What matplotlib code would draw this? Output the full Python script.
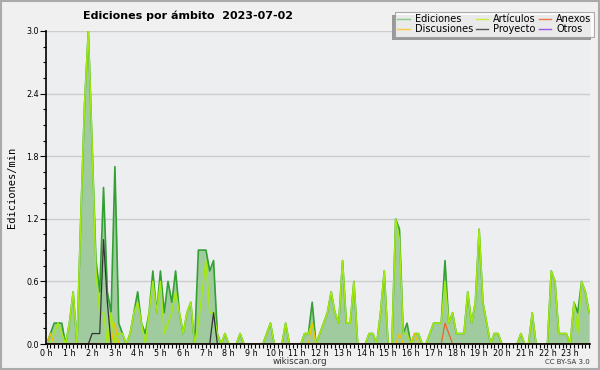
import numpy as np
import matplotlib
matplotlib.use('Agg')
import matplotlib.pyplot as plt
from matplotlib.patches import Rectangle

# edits per minute, 10-minute bins, one row per hour
ediciones = [
    0, .1, .2, .2, .2, 0,
    .2, .5, 0, 1.2, 2.3, 3.0,
    1.9, .8, .5, 1.5, .5, .3,
    1.7, .2, .1, 0, .1, .3,
    .5, .2, .1, .3, .7, .3,
    .7, .3, .6, .4, .7, .3,
    .1, .3, .4, 0, .9, .9,
    .9, .7, .8, .1, 0, .1,
    0, 0, 0, .1, 0, 0,
    0, 0, 0, 0, .1, .2,
    0, 0, 0, .2, 0, 0,
    0, 0, .1, .1, .4, 0,
    .1, .2, .3, .5, .3, .2,
    .8, .2, .2, .6, 0, 0,
    0, .1, .1, 0, .3, .7,
    0, 0, 1.2, 1.1, .1, .2,
    0, .1, .1, 0, 0, .1,
    .2, .2, .2, .8, .2, .3,
    .1, .1, .1, .5, .2, .4,
    1.1, .4, .2, 0, .1, .1,
    0, 0, 0, 0, 0, .1,
    0, 0, .3, 0, 0, 0,
    0, .7, .6, .1, .1, .1,
    0, .4, .3, .6, .5, .3,
]
articulos = [
    0, 0, .1, .2, .1, 0,
    .2, .5, 0, 1.2, 2.3, 3.0,
    1.9, .7, .3, .3, 0, .3,
    0, .1, .1, 0, .1, .3,
    .4, .2, 0, .3, .6, .3,
    .6, .1, .2, .3, .5, .3,
    .1, .3, .4, 0, .2, .5,
    .8, .3, .3, .1, 0, .1,
    0, 0, 0, .1, 0, 0,
    0, 0, 0, 0, .1, .2,
    0, 0, 0, .2, 0, 0,
    0, 0, .1, .1, .2, 0,
    .1, .2, .3, .5, .3, .2,
    .8, .2, .2, .6, 0, 0,
    0, .1, .1, 0, .3, .7,
    0, 0, 1.2, 1.0, .1, .1,
    0, .1, .1, 0, 0, .1,
    .2, .2, .2, .6, .2, .3,
    .1, .1, .1, .5, .2, .4,
    1.1, .4, .2, 0, .1, .1,
    0, 0, 0, 0, 0, .1,
    0, 0, .3, 0, 0, 0,
    0, .7, .6, .1, .1, .1,
    0, .4, .1, .6, .5, .3,
]
# sparse series: {bin: value}
discusiones = {1: .1, 18: .2, 70: .2, 93: .1, 97: .1}
proyecto = {12: .1, 13: .1, 14: .1, 15: 1.0, 16: .4, 44: .3}
anexos = {105: .2, 106: .1}
otros = {}

hours = [str(h) + ' h' for h in range(24)]

n = len(ediciones)
t = np.arange(n) / 6.0

def dense(d):
    a = np.zeros(n)
    for k, v in d.items():
        a[k] = v
    return a

fig = plt.figure(figsize=(6, 3.7), dpi=100)
fig.patch.set_facecolor('#f0f0f0')
ax = fig.add_axes([46/600, 26/370, 544/600, 313/370])
ax.set_facecolor('#edeef0')

ax.fill_between(t, 0, ediciones, color='#9fcb9f', lw=0, zorder=2)
ax.plot(t, ediciones, color='#33a033', lw=1.2, zorder=3)
ax.plot(t, articulos, color='#a4ea10', lw=1.1, zorder=4)
ax.plot(t, dense(discusiones), color='#f2c200', lw=0.9, zorder=5)
ax.plot(t, dense(proyecto), color='#333333', lw=0.9, zorder=6)
ax.plot(t, dense(anexos), color='#ee6622', lw=0.9, zorder=7)
ax.plot(t, dense(otros), color='#9944ee', lw=0.9, zorder=1)

ax.set_xlim(-0.027, 23.87)
ax.set_ylim(0, 3.0)

ax.set_xticks(range(24))
ax.set_xticklabels(hours, fontsize=5.8)
ax.set_xticks(np.arange(0, 24, 1/6.), minor=True)
ax.set_yticks(np.arange(0, 3.01, 0.6))
ax.set_yticklabels(['%.1f' % v for v in np.arange(0, 3.01, 0.6)], fontsize=5.8)
ax.set_yticks(np.arange(0, 3.01, 0.15), minor=True)
ax.tick_params(axis='x', which='both', length=3, width=0.8, pad=0.5, direction='out')
ax.tick_params(axis='y', which='major', length=4, width=0.8, pad=1)
ax.tick_params(axis='y', which='minor', length=2.5, width=0.8)
for s in ['top', 'right']:
    ax.spines[s].set_visible(False)
for s in ['left', 'bottom']:
    ax.spines[s].set_linewidth(1.2)
    ax.spines[s].set_zorder(10)
ax.yaxis.grid(True, color='#cccccc', lw=1)
ax.set_axisbelow(True)

ax.set_ylabel('Ediciones/min', fontsize=7.5, family='DejaVu Sans Mono', labelpad=7)

fig.text(0.313, 0.958, 'Ediciones por ámbito  2023-07-02', fontsize=8,
         fontweight='bold', ha='center', va='center')
fig.text(0.5, 0.023, 'wikiscan.org', fontsize=6.3, ha='center', va='center', color='#333333')
fig.text(0.983, 0.022, 'CC BY-SA 3.0', fontsize=5, ha='right', va='center', color='#333333')

# legend
names = ['Ediciones', 'Discusiones', 'Artículos', 'Proyecto', 'Anexos', 'Otros']
cols = ['#88cc88', '#f7cc44', '#c8ee44', '#555555', '#ee7744', '#9955ee']
handles = [plt.Line2D([], [], color=c, lw=1) for c in cols]
leg = fig.legend(handles, names, ncol=3, fontsize=7, loc='upper right',
                 bbox_to_anchor=(594/600, 1 - 12/370), frameon=True, fancybox=False,
                 handlelength=1.3, handletextpad=0.5, columnspacing=0.3,
                 labelspacing=0.0, borderpad=0.25, borderaxespad=0)
leg.get_frame().set_edgecolor('#999999')
leg.get_frame().set_linewidth(0.8)
leg.get_frame().set_facecolor('white')
leg.set_zorder(5)

fig.canvas.draw()
bb = leg.get_window_extent().transformed(fig.transFigure.inverted())
fig.patches.append(Rectangle((bb.x0 - 3/600, bb.y0 - 3/370), bb.width, bb.height,
                             transform=fig.transFigure, facecolor='#999999',
                             edgecolor='none', zorder=4))

# outer frame
fig.patches.append(Rectangle((0.0015, 0.002), 0.997, 0.996, transform=fig.transFigure,
                             fill=False, edgecolor='#aaaaaa', lw=1.5, zorder=20))

fig.savefig('out.png', dpi=100, facecolor=fig.get_facecolor())
